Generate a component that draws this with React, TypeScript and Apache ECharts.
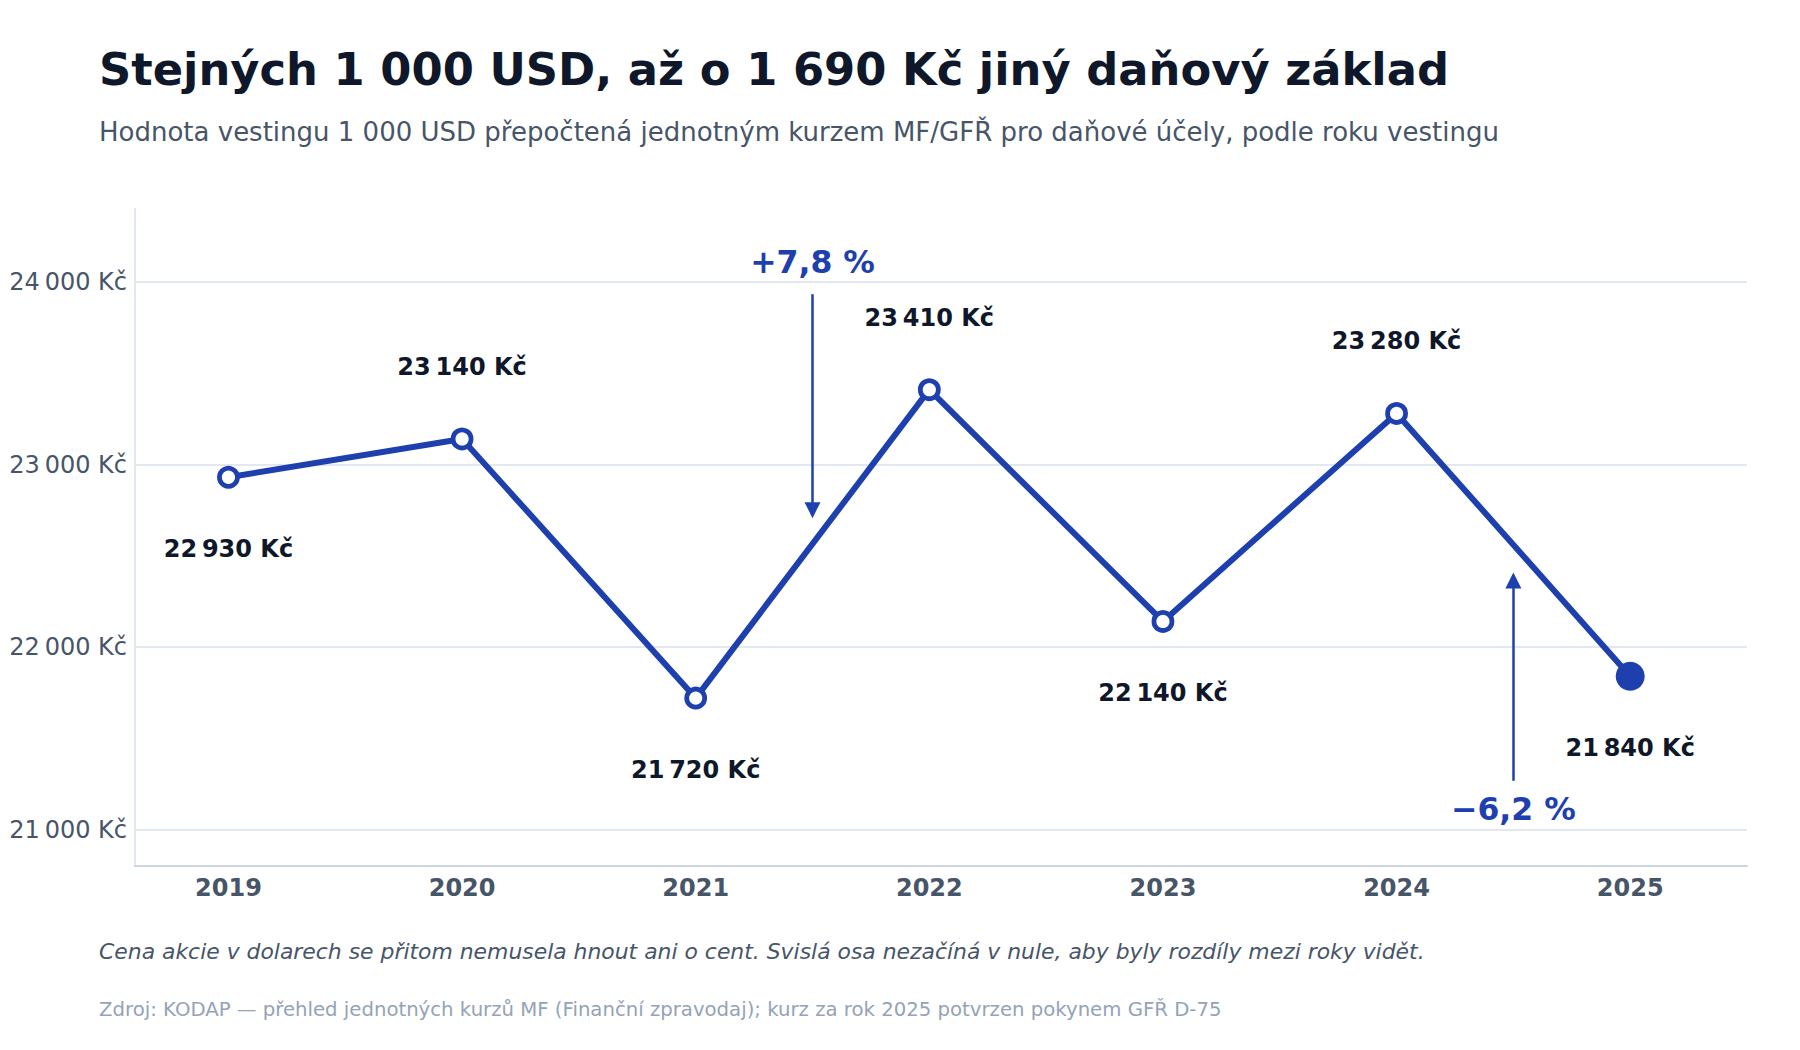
import React, { useEffect, useRef } from 'react';
import * as echarts from 'echarts';

const years = [2019, 2020, 2021, 2022, 2023, 2024, 2025];
const values = [22930, 23140, 21720, 23410, 22140, 23280, 21840];
// label above (1) or below (-1) the point
const labelSide = [-1, 1, -1, 1, -1, 1, -1];

const changeLabels = ['+7,8 %', '\u22126,2 %'];
const changeX = [2021.5, 2024.5];
const arrowFrom = [23933, 21267];
const arrowTo = [22750, 22364];
const changeLabelY = [24111, 21113];

const FONT = 'DejaVu Sans';
const BLUE = '#1e40af';

const kc = (n: number) =>
  String(n).replace(/\B(?=(\d{3})+(?!\d))/g, '\u202F') + ' Kč';

export default function App() {
  const ref = useRef<HTMLDivElement>(null);

  useEffect(() => {
    document.body.style.margin = '0';
    if (!ref.current) return;
    const chart = echarts.init(ref.current, undefined, { renderer: 'svg' });
    const last = years.length - 1;
    const none = 'rgba(0,0,0,0)';

    chart.setOption({
      animation: false,
      backgroundColor: '#ffffff',
      textStyle: { fontFamily: FONT },
      grid: { left: 135, right: 53, top: 209, bottom: 184 },
      graphic: [
        {
          type: 'text', x: 99, y: 69,
          style: {
            text: 'Stejných 1 000 USD, až o 1 690 Kč jiný daňový základ',
            font: `bold 44.8px "${FONT}"`, fill: '#0f172a', textVerticalAlign: 'middle',
          },
        },
        {
          type: 'text', x: 99, y: 132,
          style: {
            text: 'Hodnota vestingu 1 000 USD přepočtená jednotným kurzem MF/GFŘ pro daňové účely, podle roku vestingu',
            font: `26px "${FONT}"`, fill: '#475569', textVerticalAlign: 'middle',
          },
        },
        {
          type: 'text', x: 99, y: 951,
          style: {
            text: 'Cena akcie v dolarech se přitom nemusela hnout ani o cent. Svislá osa nezačíná v nule, aby byly rozdíly mezi roky vidět.',
            font: `italic 21.9px "${FONT}"`, fill: '#475569', textVerticalAlign: 'middle',
          },
        },
        {
          type: 'text', x: 99, y: 1009.5,
          style: {
            text: 'Zdroj: KODAP — přehled jednotných kurzů MF (Finanční zpravodaj); kurz za rok 2025 potvrzen pokynem GFŘ D-75',
            font: `19.7px "${FONT}"`, fill: '#94a3b8', textVerticalAlign: 'middle',
          },
        },
      ],
      xAxis: {
        type: 'value',
        min: 2018.6,
        max: 2025.5,
        interval: 0.1,
        axisLine: { show: true, lineStyle: { color: '#cbd5e1', width: 2 } },
        axisTick: { show: false },
        splitLine: { show: false },
        axisLabel: {
          margin: 10,
          color: '#475569',
          fontFamily: FONT,
          fontWeight: 'bold',
          fontSize: 24,
          formatter: (v: number) =>
            Math.abs(v - Math.round(v)) < 1e-6 ? String(Math.round(v)) : '',
        },
      },
      yAxis: {
        type: 'value',
        min: 20800,
        max: 24400,
        interval: 200,
        axisLine: { show: true, lineStyle: { color: '#e2e8f0', width: 2 } },
        axisTick: { show: false },
        splitLine: {
          show: true,
          lineStyle: { color: [none, '#e2e8f0', none, none, none], width: 2 },
        },
        axisLabel: {
          margin: 8,
          color: '#475569',
          fontFamily: FONT,
          fontSize: 24,
          formatter: (v: number) => (v % 1000 === 0 ? kc(v) : ''),
        },
      },
      series: [
        {
          type: 'line',
          z: 3,
          data: years.map((y, i) => ({
            value: [y, values[i]],
            symbolSize: i === last ? 29 : 18,
            itemStyle:
              i === last
                ? { color: BLUE, borderWidth: 0 }
                : { color: '#ffffff', borderColor: BLUE, borderWidth: 4.8 },
            label: { offset: [0, labelSide[i] > 0 ? -72 : 72] },
          })),
          symbol: 'circle',
          lineStyle: { color: BLUE, width: 6 },
          itemStyle: { color: '#ffffff', borderColor: BLUE },
          label: {
            show: true,
            position: 'inside',
            fontFamily: FONT,
            fontWeight: 'bold',
            fontSize: 24,
            color: '#0f172a',
            formatter: (p: any) => kc(p.value[1]),
          },
          markLine: {
            silent: true,
            symbol: ['none', 'triangle'],
            symbolSize: 16,
            lineStyle: { color: BLUE, width: 2.5, type: 'solid', opacity: 1 },
            label: { show: false },
            data: changeX.map((x, i) => [
              { coord: [x, arrowFrom[i]] },
              { coord: [x, arrowTo[i]] },
            ]),
          },
        },
        {
          type: 'scatter',
          z: 4,
          symbolSize: 0,
          silent: true,
          itemStyle: { opacity: 1 },
          data: changeX.map((x, i) => ({ value: [x, changeLabelY[i]], name: changeLabels[i] })),
          label: {
            show: true,
            position: 'inside',
            formatter: '{b}',
            fontFamily: FONT,
            fontWeight: 'bold',
            fontSize: 31.5,
            color: BLUE,
            opacity: 1,
          },
        },
      ],
    });

    const onResize = () => chart.resize();
    window.addEventListener('resize', onResize);
    return () => {
      window.removeEventListener('resize', onResize);
      chart.dispose();
    };
  }, []);

  return <div ref={ref} style={{ width: '1800px', height: '1050px' }} />;
}
